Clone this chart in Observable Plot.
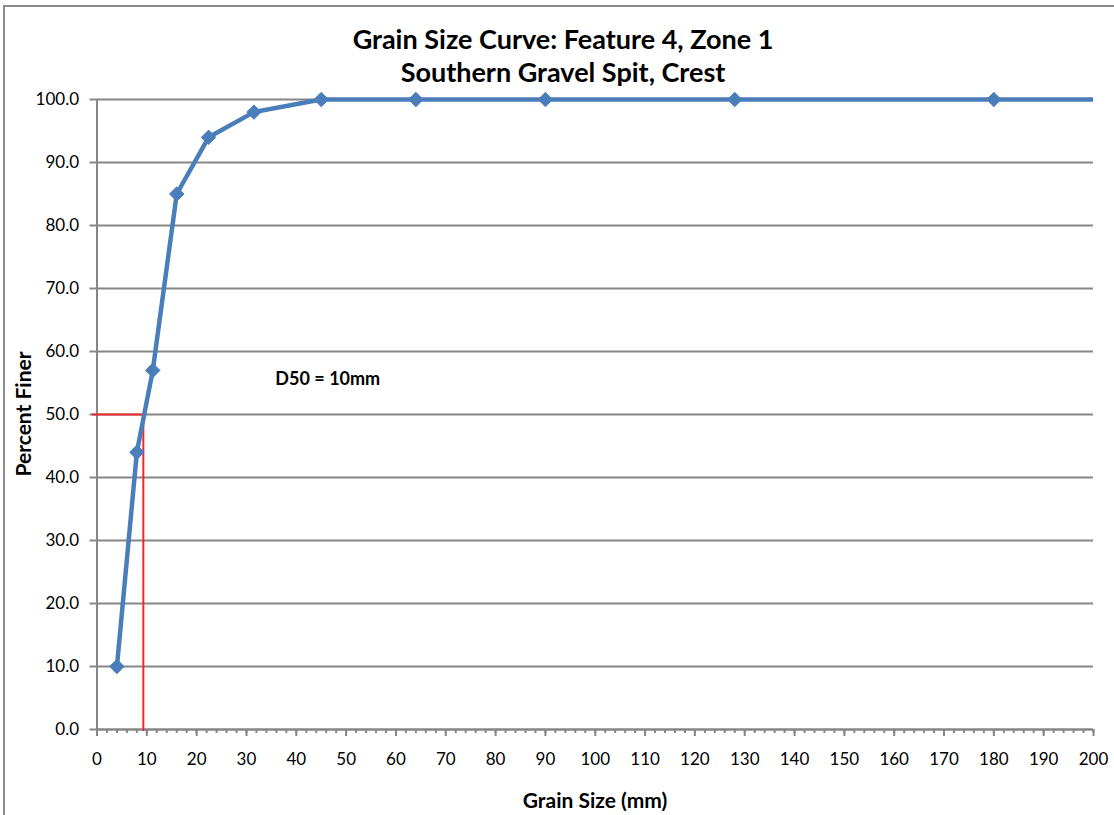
<!DOCTYPE html>
<html>
<head>
<meta charset="utf-8">
<script src="https://cdn.jsdelivr.net/npm/d3@7"></script>
<script src="https://cdn.jsdelivr.net/npm/@observablehq/plot@0.6"></script>
<style>
  html, body { margin: 0; padding: 0; background: #fff; }
  #wrap { position: relative; width: 1114px; height: 815px; overflow: hidden; font-family: Lato, "Open Sans", sans-serif; }
  #frame { position: absolute; left: 3px; top: 5px; width: 1200px; height: 900px; border-left: 2px solid #8c8c8c; border-top: 2px solid #8c8c8c; }
  .title { position: absolute; left: 0; width: 1126px; text-align: center; font-weight: bold; font-size: 27px; line-height: 32px; color: #000; }
  #xlab { position: absolute; left: 0; width: 1190px; top: 787px; text-align: center; font-weight: bold; font-size: 21px; line-height: 26px; }
  #ylab { position: absolute; left: 22px; top: 414px; transform: translate(-50%, -50%) rotate(-90deg); font-weight: bold; font-size: 21px; white-space: nowrap; }
  #chart { position: absolute; left: 0; top: 0; }
</style>
</head>
<body>
<div id="wrap">
  <div id="frame"></div>
  <div id="chart"></div>
  <div class="title" style="top:23px">Grain Size Curve: Feature 4, Zone 1</div>
  <div class="title" style="top:56px">Southern Gravel Spit, Crest</div>
  <div id="xlab">Grain Size (mm)</div>
  <div id="ylab">Percent Finer</div>
</div>
<script>
// Data
const grainSize = [4, 8, 11.2, 16, 22.4, 31.5, 45, 64, 90, 128, 180, 256];
const percentFiner = [10, 44, 57, 85, 94, 98, 100, 100, 100, 100, 100, 100];
const d50Value = 9.3;
const d50Percent = 50;
const d50Label = "D50 = 10mm";
const d50LabelPos = {x: 35.8, y: 55.6};
const xMajorTicks = d3.range(0, 201, 10);
const xMinorTicks = d3.range(0, 201, 2);
const yTicks = d3.range(0, 101, 10);

const data = grainSize.map((g, i) => ({size: g, pct: percentFiner[i]}));
const gray = "#868686";
const blue = "#4a7ebb";

const chart = Plot.plot({
  width: 1114,
  height: 815,
  marginLeft: 96.5,
  marginRight: 21,
  marginTop: 85,
  insetTop: 14,
  marginBottom: 86,
  style: {fontFamily: "Lato, 'Open Sans', sans-serif", fontSize: "17px", color: "#000", background: "transparent", overflow: "visible"},
  x: {domain: [0, 200], label: null},
  y: {domain: [0, 100], label: null},
  marks: [
    Plot.gridY(yTicks, {stroke: gray, strokeOpacity: 1, strokeWidth: 2}),
    Plot.ruleX([0], {y1: 0, y2: 100, stroke: gray, strokeWidth: 2}),
    Plot.ruleY([0], {stroke: gray, strokeWidth: 2}),
    Plot.axisY({ticks: yTicks, tickFormat: d3.format(".1f"), tickSize: 7, tickPadding: 11, stroke: gray, strokeWidth: 2, fill: "#000", label: null}),
    Plot.axisX({ticks: xMinorTicks, tickSize: 4, text: null, stroke: gray, strokeWidth: 2, label: null}),
    Plot.axisX({ticks: xMajorTicks, tickSize: 7, tickPadding: 16, stroke: gray, strokeWidth: 2, fill: "#000", label: null}),
    Plot.ruleY([d50Percent], {x1: -0.9, x2: d50Value, stroke: "#f0262e", strokeWidth: 2}),
    Plot.ruleX([d50Value], {y1: -0.3, y2: d50Percent, stroke: "#f0262e", strokeWidth: 2}),
    Plot.line(data, {x: "size", y: "pct", stroke: blue, strokeWidth: 4.5, clip: true}),
    Plot.dot(data, {filter: d => d.size <= 200, x: "size", y: "pct", symbol: "diamond2", r: 6.5, fill: blue, stroke: blue, strokeWidth: 1}),
    Plot.text([d50Label], {x: d50LabelPos.x, y: d50LabelPos.y, text: d => d, textAnchor: "start", fontWeight: "bold", fontSize: 18, fill: "#000"})
  ]
});
document.getElementById("chart").appendChild(chart);
</script>
</body>
</html>
